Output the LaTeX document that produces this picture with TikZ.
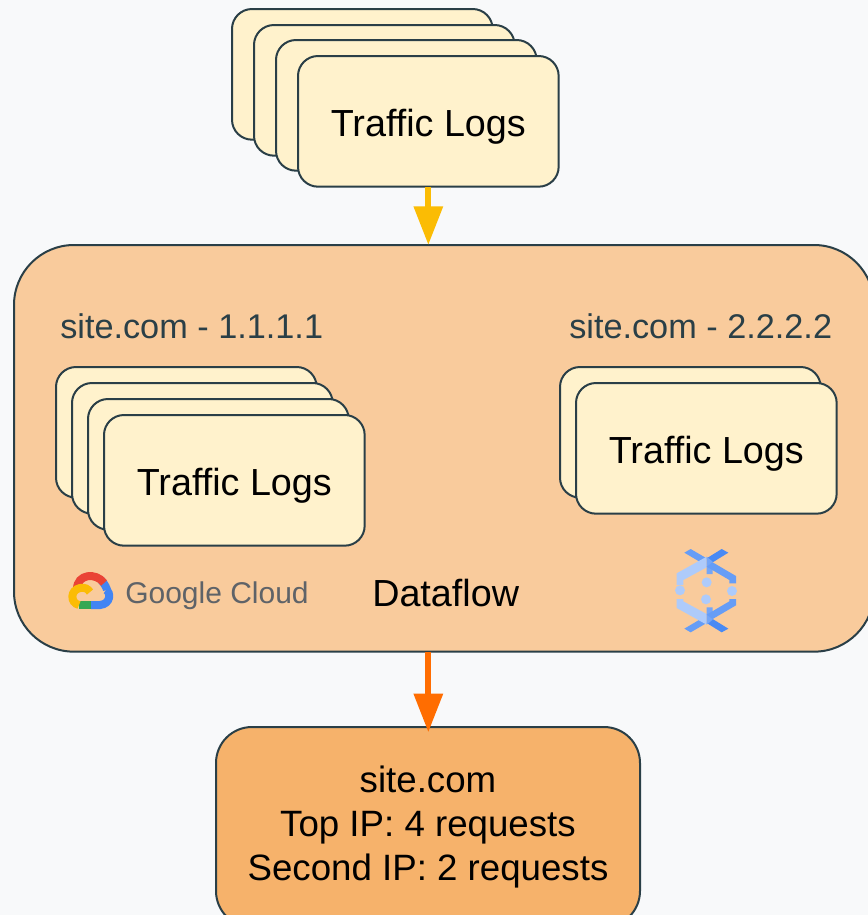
\documentclass[tikz,border=0pt]{standalone}
\usepackage{fontspec}
\setmainfont{Liberation Sans}
\usetikzlibrary{arrows.meta,calc}
\definecolor{bgc}{HTML}{F8F9FA}
\definecolor{edgec}{HTML}{2A3F47}
\definecolor{logc}{HTML}{FFF2CC}
\definecolor{mainc}{HTML}{F9CB9C}
\definecolor{outc}{HTML}{F6B26B}
\definecolor{yel}{HTML}{FBBC04}
\definecolor{ora}{HTML}{FF6D01}
\definecolor{gray5}{HTML}{5F6368}
\definecolor{df1}{HTML}{AECBFA}
\definecolor{df2}{HTML}{669DF6}
\definecolor{df3}{HTML}{4285F4}
\definecolor{gred}{HTML}{EA4335}
\definecolor{ggreen}{HTML}{34A853}
\tikzset{
  boxbase/.style={draw=edgec,line width=1.5pt,outer sep=0pt,inner sep=0pt,anchor=north west},
  logbox/.style={boxbase,fill=logc,rounded corners=15pt,minimum width=195.5pt,minimum height=98pt,text depth=0pt,font=\fontsize{28.3}{33}\selectfont},
  bigbox/.style={boxbase,fill=mainc,rounded corners=45pt,minimum width=645pt,minimum height=305pt},
  outbox/.style={boxbase,fill=outc,rounded corners=27pt,minimum width=318pt,minimum height=150pt},
  plain/.style={inner sep=0pt,font=\fontsize{28.3}{33}\selectfont},
  outlabel/.style={inner sep=0pt,font=\fontsize{27.5}{33}\selectfont},
  sitelabel/.style={inner sep=0pt,text=edgec,font=\fontsize{25.7}{30}\selectfont},
  flow/.style={line width=4.7pt,-{Triangle[length=29pt,width=21pt]}},
}
\begin{document}
\begin{tikzpicture}[x=0.75pt,y=-0.75pt]
\useasboundingbox (0,0) rectangle (868,915);
\clip (0,0) rectangle (868,915);
\fill[bgc] (0,0) rectangle (868,915);
% top stack
\node[logbox] (t1) at (232,9) {};
\node[logbox] (t2) at (254,25) {};
\node[logbox] (t3) at (276,40) {};
\node[logbox] (t4) at (298,56) {\raisebox{-2pt}{Traffic Logs}};
% main box
\node[bigbox] (main) at (14,245) {};
\node[sitelabel,anchor=west] (lab1) at (60,326) {site.com - 1.1.1.1};
\node[sitelabel,anchor=west] (lab2) at (569,326) {site.com - 2.2.2.2};
% left stack
\node[logbox] (l1) at (56,367) {};
\node[logbox] (l2) at (72,383) {};
\node[logbox] (l3) at (88,399) {};
\node[logbox] (l4) at (104,415) {\raisebox{-2pt}{Traffic Logs}};
% right stack
\node[logbox] (r1) at (560,367) {};
\node[logbox] (r2) at (576,383) {\raisebox{-2pt}{Traffic Logs}};
% labels
\node[plain,anchor=west] (df) at (372,593) {Dataflow};
\node[inner sep=0pt,anchor=west,text=gray5,font=\fontsize{22.5}{30}\selectfont] (gc) at (125,596) {Google Cloud};
% Google Cloud logo
\begin{scope}[line width=6pt,line cap=butt]
  \draw[df3] (101,580) .. controls (105,584) and (107,589) .. (107,590);
  \draw[df3] (106,590) .. controls (111,592) and (111,604) .. (100,605) -- (91,605);
  \draw[gred] (77,589) .. controls (77,574) and (96,572) .. (104,583);
  \draw[ggreen] (91,605) -- (79,605);
  \draw[yel] (79,605) .. controls (70,603) and (70,590) .. (80,588) .. controls (85,587) and (88,589) .. (90,592);
\end{scope}
% Dataflow icon
\begin{scope}[shift={(650,530)},x=0.25pt,y=-0.25pt]
  \foreach \c/\r in {170/157,90/181,246/183,168/208}{\fill[df1] (\c,\r) circle[radius=15];}
  \fill[df2] (103,68)--(122,57)--(170,85)--(152,97)--cycle;
  \fill[df3!80!df2] (170,85)--(215,57)--(235,68)--(188,97)--cycle;
  \fill[df1] (80,130)--(170,80)--(170,112)--(100,150)--(100,165)--(80,165)--cycle;
  \fill[df2!80!df1] (170,80)--(188,95)--(188,132)--(170,132)--cycle;
  \fill[df2] (188,97)--(258,138)--(258,160)--(238,160)--(238,150)--(170,110)--cycle;
  \fill[df2] (103,296)--(122,307)--(170,279)--(152,267)--cycle;
  \fill[df3!80!df2] (170,279)--(215,307)--(235,296)--(188,267)--cycle;
  \fill[df1] (80,234)--(170,284)--(170,252)--(100,214)--(100,207)--(80,207)--cycle;
  \fill[df2!80!df1] (170,284)--(188,269)--(188,232)--(170,232)--cycle;
  \fill[df2] (188,267)--(258,226)--(258,207)--(238,207)--(238,214)--(170,254)--cycle;
\end{scope}
% output
\node[outbox] (out) at (216,727) {};
\node[outlabel,align=center,anchor=north] (outtext) at (428,766) {site.com\\Top IP: 4 requests\\Second IP: 2 requests};
% connectors
\draw[flow,yel] (t4.south) -- (t4.south |- main.north);
\draw[flow,ora,shorten >=-4pt] (t4.south |- main.south) -- (t4.south |- out.north);
\end{tikzpicture}
\end{document}
